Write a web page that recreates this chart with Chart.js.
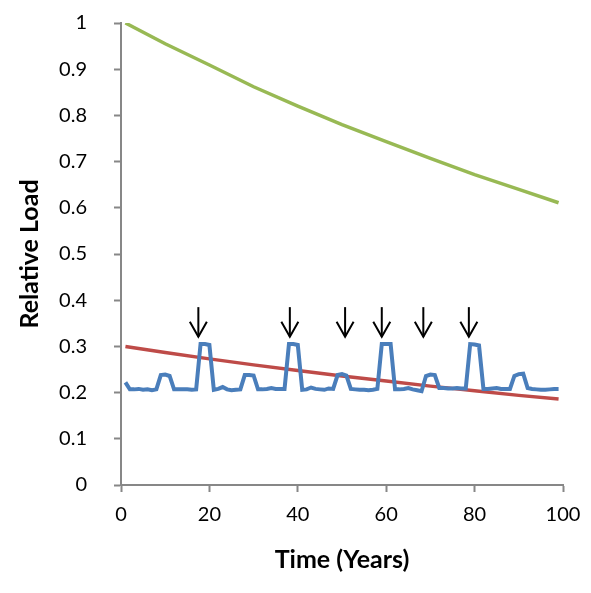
<!DOCTYPE html>
<html>
<head>
<meta charset="utf-8">
<script src="https://cdn.jsdelivr.net/npm/chart.js@4.4.1/dist/chart.umd.min.js"></script>
<style>
  html, body { margin: 0; padding: 0; background: #ffffff; }
  #wrap { width: 591px; height: 593px; }
</style>
</head>
<body>
<div id="wrap"><canvas id="c" width="591" height="593"></canvas></div>
<script>
// ---- data ----
const years = [];
for (let i = 1; i <= 99; i++) years.push(i);

const blueLoad = [
  0.222, 0.207, 0.207, 0.208, 0.206, 0.207, 0.205, 0.207, 0.238, 0.239,
  0.236, 0.207, 0.207, 0.207, 0.207, 0.206, 0.207, 0.305, 0.305, 0.303,
  0.206, 0.208, 0.212, 0.207, 0.205, 0.206, 0.207, 0.238, 0.238, 0.237,
  0.207, 0.207, 0.208, 0.210, 0.208, 0.208, 0.208, 0.305, 0.305, 0.303,
  0.206, 0.207, 0.211, 0.208, 0.207, 0.206, 0.209, 0.208, 0.238, 0.240,
  0.237, 0.208, 0.207, 0.206, 0.206, 0.205, 0.206, 0.208, 0.305, 0.305,
  0.305, 0.207, 0.207, 0.208, 0.210, 0.207, 0.205, 0.203, 0.236, 0.239,
  0.238, 0.210, 0.210, 0.209, 0.209, 0.210, 0.209, 0.209, 0.305, 0.304,
  0.302, 0.208, 0.208, 0.209, 0.210, 0.208, 0.208, 0.208, 0.236, 0.240,
  0.241, 0.210, 0.208, 0.207, 0.206, 0.206, 0.207, 0.208, 0.208
];

const redYears = [1, 10, 20, 30, 40, 50, 60, 70, 80, 90, 99];
const redLoad  = [0.300, 0.287, 0.273, 0.260, 0.248, 0.236, 0.225, 0.214, 0.204, 0.194, 0.186];

const greenYears = [1, 10, 20, 30, 40, 50, 60, 70, 80, 90, 99];
const greenLoad  = [1.000, 0.955, 0.909, 0.862, 0.820, 0.780, 0.743, 0.707, 0.672, 0.640, 0.611];

const arrowYears = [17.5, 38.2, 50.7, 59.0, 68.4, 78.7];
const arrowFrom = 0.385;
const arrowTo = 0.321;

const xTickValues = [0, 20, 40, 60, 80, 100];
const yTickLabels = ['0', '0.1', '0.2', '0.3', '0.4', '0.5', '0.6', '0.7', '0.8', '0.9', '1'];

const xTitle = 'Time (Years)';
const yTitle = 'Relative Load';

// ---- chart ----
const axisGray = '#878787';
const tickFont = { family: 'Lato', size: 20 };
const titleFont = { family: 'Lato', size: 25, weight: 'bold' };

const arrowPlugin = {
  id: 'arrows',
  afterDatasetsDraw(chart) {
    const ctx = chart.ctx;
    const xs = chart.scales.x, ys = chart.scales.y;
    ctx.save();
    ctx.strokeStyle = '#000000';
    ctx.lineWidth = 2;
    ctx.lineCap = 'butt';
    ctx.lineJoin = 'miter';
    arrowYears.forEach(v => {
      const px = xs.getPixelForValue(v);
      const y0 = ys.getPixelForValue(arrowFrom);
      const y1 = ys.getPixelForValue(arrowTo);
      ctx.beginPath();
      ctx.moveTo(px, y0);
      ctx.lineTo(px, y1);
      ctx.stroke();
      ctx.beginPath();
      ctx.moveTo(px - 8.5, y1 - 15);
      ctx.lineTo(px, y1);
      ctx.lineTo(px + 8.5, y1 - 15);
      ctx.stroke();
    });
    ctx.restore();
  }
};

new Chart(document.getElementById('c'), {
  type: 'line',
  data: {
    datasets: [
      {
        label: 'Blue',
        data: years.map((x, i) => ({ x: x, y: blueLoad[i] })),
        borderColor: '#4A7EBB',
        borderWidth: 4,
        pointRadius: 0,
        tension: 0,
        fill: false
      },
      {
        label: 'Red',
        data: redYears.map((x, i) => ({ x: x, y: redLoad[i] })),
        borderColor: '#BE4B48',
        borderWidth: 3.5,
        pointRadius: 0,
        tension: 0,
        fill: false
      },
      {
        label: 'Green',
        data: greenYears.map((x, i) => ({ x: x, y: greenLoad[i] })),
        borderColor: '#98B954',
        borderWidth: 3.5,
        pointRadius: 0,
        tension: 0,
        fill: false
      }
    ]
  },
  options: {
    responsive: false,
    animation: false,
    events: [],
    layout: { padding: { top: 23, right: 28, left: 0, bottom: 0 } },
    plugins: { legend: { display: false }, tooltip: { enabled: false } },
    scales: {
      x: {
        type: 'linear',
        min: 0,
        max: 100,
        afterBuildTicks: s => { s.ticks = xTickValues.map(v => ({ value: v })); },
        ticks: { color: '#000', font: tickFont, padding: 11, maxRotation: 0, autoSkip: false },
        grid: { drawOnChartArea: false, drawTicks: true, tickLength: 7, tickColor: axisGray, tickWidth: 2 },
        border: { color: axisGray, width: 2 },
        title: { display: true, text: xTitle, color: '#000', font: titleFont, padding: { top: 0, bottom: 18 } },
        afterFit: s => { s.height = 108; s.paddingLeft = 0; s.paddingRight = 0; }
      },
      y: {
        type: 'linear',
        min: 0,
        max: 1,
        ticks: {
          stepSize: 0.1,
          color: '#000',
          font: tickFont,
          padding: 27,
          callback: (v, i) => yTickLabels[i]
        },
        grid: { drawOnChartArea: false, drawTicks: true, tickLength: 7, tickColor: axisGray, tickWidth: 2 },
        border: { color: axisGray, width: 2 },
        title: { display: true, text: yTitle, color: '#000', font: titleFont, padding: { top: 15, bottom: 0 } },
        afterFit: s => { s.width = 121; s.paddingTop = 0; s.paddingBottom = 0; }
      }
    }
  },
  plugins: [arrowPlugin]
});
</script>
</body>
</html>
